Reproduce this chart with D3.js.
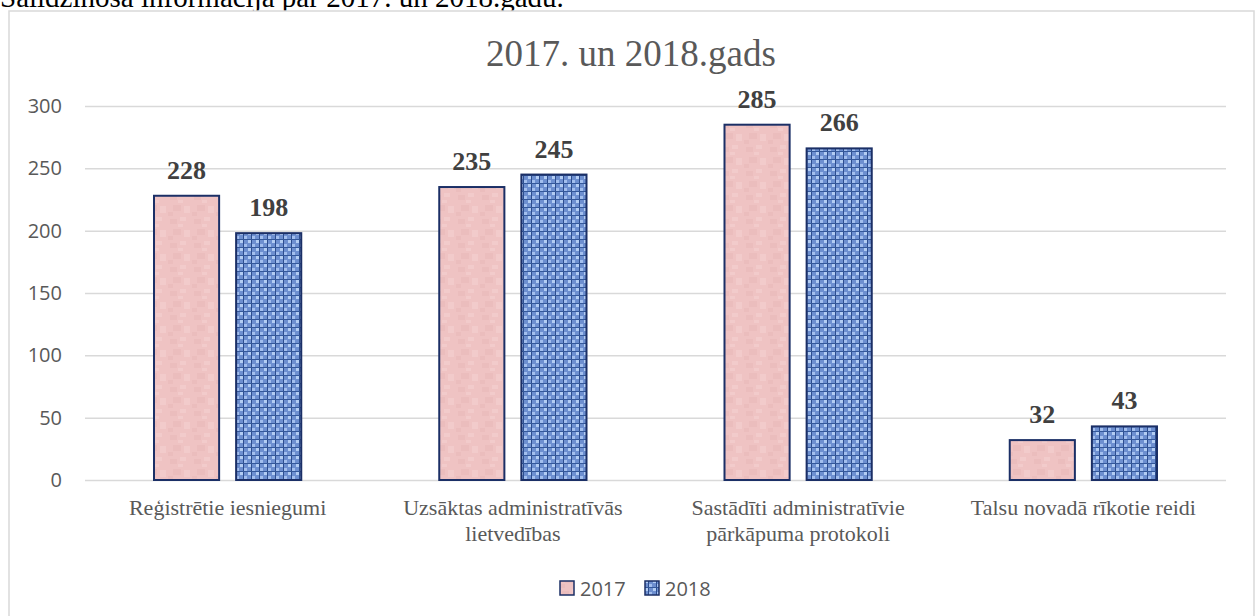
<!DOCTYPE html>
<html>
<head>
<meta charset="utf-8">
<script src="https://d3js.org/d3.v7.min.js"></script>
<style>
  body { margin: 0; background: #fff; }
  svg { display: block; }
</style>
</head>
<body>
<svg width="1257" height="616"></svg>
<script>
var categories = [
  ["Reģistrētie iesniegumi"],
  ["Uzsāktas administratīvās", "lietvedības"],
  ["Sastādīti administratīvie", "pārkāpuma protokoli"],
  ["Talsu novadā rīkotie reidi"]
];
var series = ["2017", "2018"];
var values2017 = [228, 235, 285, 32];
var values2018 = [198, 245, 266, 43];
var yTicks = [0, 50, 100, 150, 200, 250, 300];

var svg = d3.select("svg");
var defs = svg.append("defs");

// pink marble-ish texture
var pink = defs.append("pattern").attr("id", "pink")
  .attr("patternUnits", "userSpaceOnUse").attr("width", 24).attr("height", 24);
pink.append("rect").attr("width", 24).attr("height", 24).attr("fill", "#efc3c3");
[[2,3,7,5],[12,1,6,4],[5,13,8,6],[16,14,6,7],[0,20,5,4],[10,8,5,3]].forEach(function(d, i) {
  pink.append("rect").attr("x", d[0]).attr("y", d[1]).attr("width", d[2]).attr("height", d[3])
    .attr("fill", i % 2 ? "#f4d0d0" : "#e8b9b9").attr("opacity", 0.6);
});

// blue woven texture
var blue = defs.append("pattern").attr("id", "blue")
  .attr("patternUnits", "userSpaceOnUse").attr("width", 8).attr("height", 8);
blue.append("rect").attr("width", 8).attr("height", 8).attr("fill", "#6d8fd0");
blue.append("rect").attr("x", 0).attr("y", 0).attr("width", 3).attr("height", 3).attr("fill", "#b3cdf3");
blue.append("rect").attr("x", 4).attr("y", 4).attr("width", 3).attr("height", 3).attr("fill", "#a3bfee");
blue.append("rect").attr("x", 3).attr("y", 0).attr("width", 1).attr("height", 8).attr("fill", "#2d4d8e");
blue.append("rect").attr("x", 0).attr("y", 7).attr("width", 8).attr("height", 1).attr("fill", "#34589a");

// heading text above the chart (cut off at top)
svg.append("text").attr("x", 0).attr("y", 7)
  .attr("font-family", "Liberation Serif, Times New Roman, serif")
  .attr("font-size", 29).attr("fill", "#000")
  .text("Salīdzinošā informācija par 2017. un 2018.gadu.");

// chart frame
svg.append("rect").attr("x", 9).attr("y", 11).attr("width", 1245).attr("height", 620)
  .attr("fill", "#fff").attr("stroke", "#d9d9d9").attr("stroke-width", 1.5);

var plotLeft = 85, plotRight = 1226, plotTop = 106, plotBottom = 480;

var x = d3.scaleBand().domain(d3.range(categories.length))
  .range([plotLeft, plotRight]);
var xs = d3.scaleBand().domain(series)
  .range([69, x.bandwidth() - 69]).paddingInner(0.207);
var y = d3.scaleLinear().domain([0, 300]).range([plotBottom, plotTop]);

// title
svg.append("text").attr("x", 631).attr("y", 66).attr("text-anchor", "middle")
  .attr("font-family", "Liberation Serif, Times New Roman, serif")
  .attr("font-size", 37).attr("fill", "#595959")
  .text("2017. un 2018.gads");

// gridlines and y axis
var yAxis = d3.axisLeft(y).tickValues(yTicks).tickSize(-(plotRight - plotLeft)).tickPadding(23);
var ga = svg.append("g").attr("transform", "translate(" + plotLeft + ",0)").call(yAxis);
ga.select(".domain").remove();
ga.selectAll(".tick line").attr("stroke", "#d9d9d9").attr("stroke-width", 1.5);
ga.selectAll(".tick text").attr("fill", "#595959")
  .attr("font-family", "Open Sans, Liberation Sans, sans-serif").attr("font-size", 20);

var data = [];
categories.forEach(function(c, i) {
  data.push({ cat: i, s: "2017", v: values2017[i] });
  data.push({ cat: i, s: "2018", v: values2018[i] });
});

svg.append("g").selectAll("rect").data(data).join("rect")
  .attr("x", function(d) { return x(d.cat) + xs(d.s); })
  .attr("y", function(d) { return y(d.v); })
  .attr("width", xs.bandwidth())
  .attr("height", function(d) { return y(0) - y(d.v); })
  .attr("fill", function(d) { return d.s === "2017" ? "url(#pink)" : "url(#blue)"; })
  .attr("stroke", "#1b2f66").attr("stroke-width", 2);

svg.append("g").selectAll("text").data(data).join("text")
  .attr("x", function(d) { return x(d.cat) + xs(d.s) + xs.bandwidth() / 2; })
  .attr("y", function(d) { return y(d.v) - 17; })
  .attr("text-anchor", "middle")
  .attr("font-family", "Liberation Serif, Times New Roman, serif")
  .attr("font-weight", "bold").attr("font-size", 26).attr("fill", "#404040")
  .text(function(d) { return d.v; });

// category labels
var cl = svg.append("g").selectAll("text").data(categories).join("text")
  .attr("x", function(d, i) { return x(i) + x.bandwidth() / 2; })
  .attr("y", 515).attr("text-anchor", "middle")
  .attr("font-family", "Liberation Serif, Times New Roman, serif")
  .attr("font-size", 22).attr("fill", "#595959");
cl.selectAll("tspan").data(function(d) { return d; }).join("tspan")
  .attr("x", function() { return this.parentNode.getAttribute("x"); })
  .attr("dy", function(d, i) { return i ? 26 : 0; })
  .text(function(d) { return d; });

// legend
var legend = svg.append("g").selectAll("g").data(series).join("g")
  .attr("transform", function(d, i) { return "translate(" + (560 + i * 85) + ",588)"; });
legend.append("rect").attr("x", 0).attr("y", -7).attr("width", 14).attr("height", 14)
  .attr("fill", function(d) { return d === "2017" ? "url(#pink)" : "url(#blue)"; })
  .attr("stroke", "#1b2f66").attr("stroke-width", 1.5);
legend.append("text").attr("x", 20).attr("y", 7.5)
  .attr("font-family", "Open Sans, Liberation Sans, sans-serif")
  .attr("font-size", 20).attr("fill", "#595959")
  .text(function(d) { return d; });
</script>
</body>
</html>
